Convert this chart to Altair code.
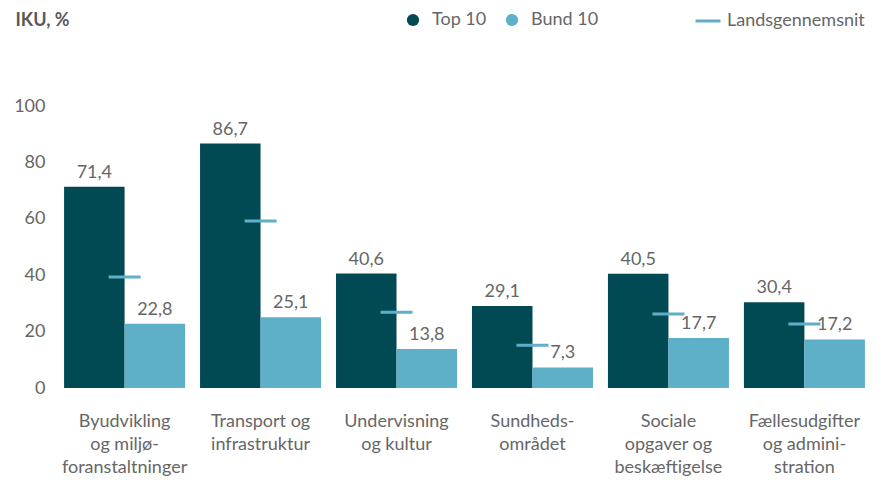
import altair as alt
import pandas as pd

categories = [
    "Byudvikling|og miljø-|foranstaltninger",
    "Transport og|infrastruktur",
    "Undervisning|og kultur",
    "Sundheds-|området",
    "Sociale|opgaver og|beskæftigelse",
    "Fællesudgifter|og admini-|stration",
]
top10 = [71.4, 86.7, 40.6, 29.1, 40.5, 30.4]
bund10 = [22.8, 25.1, 13.8, 7.3, 17.7, 17.2]
landsgennemsnit = [39.4, 59.2, 26.9, 15.2, 26.2, 22.7]
series = ["Top 10", "Bund 10"]

rows = []
for c, t, b in zip(categories, top10, bund10):
    rows.append({"cat": c, "serie": "Top 10", "val": t, "lbl": f"{t:.1f}".replace(".", ",")})
    rows.append({"cat": c, "serie": "Bund 10", "val": b, "lbl": f"{b:.1f}".replace(".", ",")})
df = pd.DataFrame(rows)
avg = pd.DataFrame({"cat": categories, "avg": landsgennemsnit, "serie": ["Landsgennemsnit"] * 6})

FONT = "Lato"
GRAY = "#666666"
DARK = "#024a53"
LIGHT = "#5eafc8"

x = alt.X(
    "cat:N",
    sort=categories,
    scale=alt.Scale(domain=categories, paddingInner=0.11, paddingOuter=0.03),
    axis=alt.Axis(
        title=None,
        labelExpr="split(datum.value, '|')",
        labelAngle=0,
        labelFontSize=18,
        labelFont=FONT,
        labelColor=GRAY,
        labelLineHeight=23,
        labelPadding=24,
        labelLimit=200,
        ticks=False,
        tickSize=0,
        domain=False,
    ),
)
y = alt.Y(
    "val:Q",
    scale=alt.Scale(domain=[0, 100], nice=False),
    axis=alt.Axis(
        values=[0, 20, 40, 60, 80, 100],
        grid=False,
        domain=False,
        ticks=False,
        tickSize=0,
        labelPadding=15,
        labelFontSize=18,
        labelFont=FONT,
        labelColor=GRAY,
        title="IKU, %",
        titleAngle=0,
        titleX=-45,
        titleY=-86,
        titleAlign="left",
        titleBaseline="middle",
        titleFont=FONT,
        titleFontSize=18,
        titleFontWeight="bold",
        titleColor="#595959",
    ),
)

color = alt.Color(
    "serie:N",
    scale=alt.Scale(domain=series, range=[DARK, LIGHT]),
    legend=alt.Legend(
        title=None,
        orient="none",
        direction="horizontal",
        legendX=344,
        legendY=-95,
        symbolType="circle",
        symbolSize=150,
        symbolStrokeWidth=0,
        labelFont=FONT,
        labelFontSize=18,
        labelColor=GRAY,
        labelOffset=10,
        columnPadding=16,
        padding=0,
    ),
)

bars = alt.Chart(df).mark_bar().encode(
    x=x,
    xOffset=alt.XOffset("serie:N", sort=series, scale=alt.Scale(domain=series)),
    y=y,
    color=color,
)

labels = alt.Chart(df).mark_text(
    baseline="bottom", dy=-5, font=FONT, fontSize=18, color=GRAY
).encode(
    x=alt.X("cat:N", sort=categories),
    xOffset=alt.XOffset("serie:N", sort=series, scale=alt.Scale(domain=series)),
    y=alt.Y("val:Q"),
    text="lbl:N",
)

ticks = alt.Chart(avg).mark_tick(size=32, thickness=3, opacity=1).encode(
    x=alt.X("cat:N", sort=categories),
    y=alt.Y("avg:Q"),
    color=alt.Color(
        "serie:N",
        scale=alt.Scale(domain=["Landsgennemsnit"], range=[LIGHT]),
        legend=alt.Legend(
            title=None,
            orient="none",
            legendX=634,
            legendY=-99,
            symbolType="stroke",
            symbolSize=625,
            symbolStrokeWidth=3,
            symbolStrokeColor=LIGHT,
            labelFont=FONT,
            labelFontSize=18,
            labelColor=GRAY,
            labelOffset=5,
            padding=0,
        ),
    ),
)

chart = (
    alt.layer(bars, ticks, labels)
    .resolve_scale(color="independent")
    .properties(
        width=809,
        height=282,
        autosize=alt.AutoSizeParams(type="none"),
        padding={"left": 52, "top": 98, "right": 0, "bottom": 100},
        background="white",
    )
    .configure_view(stroke=None)
)

chart.save("out.html", embed_options={"renderer": "svg", "actions": False})
